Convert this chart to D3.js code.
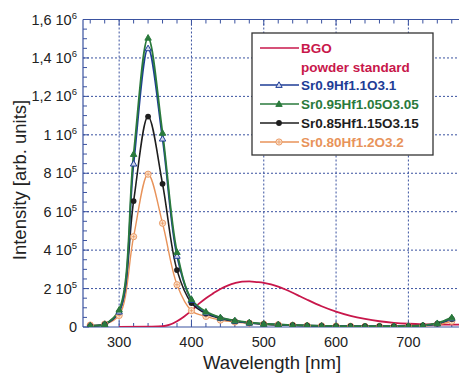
<!DOCTYPE html>
<html><head><meta charset="utf-8">
<script src="https://cdn.jsdelivr.net/npm/d3@7"></script>
<style>
body{margin:0;background:#fff;}
svg{display:block;font-family:"Liberation Sans",Arial,sans-serif;}
</style></head>
<body><svg id="c" width="459" height="376"></svg>
<script>
// ---- data ----
const wavelengths = [260,280,300,320,340,360,380,400,420,440,460,480,500,520,540,560,580,600,620,640,660,680,700,720,740,760];
const sr090 = [8,15,80,850,1450,980,370,140,75,48,32,22,16,12,9,7,6,5,4,4,4,4,5,8,18,45].map(v=>v*1e3);
const sr095 = [8,15,90,900,1505,1010,390,145,80,50,34,24,17,13,10,8,6,5,4,4,4,4,5,9,20,50].map(v=>v*1e3);
const sr085 = [6,14,80,655,1095,745,296,125,70,45,30,21,15,11,9,7,6,5,4,4,4,4,5,8,17,42].map(v=>v*1e3);
const sr080 = [10,15,60,470,795,540,220,85,55,36,26,20,15,12,9,7,6,5,4,3,3,3,3,5,12,30].map(v=>v*1e3);
const bgoWl = [300,340,360,370,380,390,400,410,420,430,440,450,460,470,480,490,500,510,520,530,540,550,560,580,600,620,640,660,680,700,720,740,760,770];
const bgoVal = [0,2,4,12,30,55,85,120,150,175,198,215,228,236,237,234,230,222,210,195,178,160,142,108,80,58,42,30,22,17,14,13,12,12].map(v=>v*1e3);
const xTicks = [300,400,500,600,700];
const yTicks = [0,2e5,4e5,6e5,8e5,1e6,1.2e6,1.4e6,1.6e6];
const yTickLabels = [["0",""],["2 10","5"],["4 10","5"],["6 10","5"],["8 10","5"],["1 10","6"],["1,2 10","6"],["1,4 10","6"],["1,6 10","6"]];
const seriesNames = ["Sr0.9Hf1.1O3.1","Sr0.95Hf1.05O3.05","Sr0.85Hf1.15O3.15","Sr0.80Hf1.2O3.2"];

const svg = d3.select("#c");
const L=83, R=459, T=19.5, B=327;
const x = d3.scaleLinear().domain([250,770]).range([L,R]);
const y = d3.scaleLinear().domain([0,1.6e6]).range([B,T]);
const axisCol = "#3a52a0";

// grid
const g = svg.append("g");
xTicks.forEach(t=>g.append("line").attr("x1",x(t)).attr("x2",x(t)).attr("y1",T).attr("y2",B)
  .attr("stroke",axisCol).attr("stroke-width",1).attr("stroke-dasharray","2,2"));
yTicks.slice(1,-1).forEach(t=>g.append("line").attr("x1",L).attr("x2",R).attr("y1",y(t)).attr("y2",y(t))
  .attr("stroke",axisCol).attr("stroke-width",1).attr("stroke-dasharray","2,2"));

// frame and minor ticks
svg.append("line").attr("x1",L).attr("x2",R).attr("y1",T).attr("y2",T).attr("stroke",axisCol).attr("stroke-width",1.2);
svg.append("line").attr("x1",L).attr("x2",R).attr("y1",B).attr("y2",B).attr("stroke",axisCol).attr("stroke-width",1.2);
svg.append("line").attr("x1",L).attr("x2",L).attr("y1",T).attr("y2",B).attr("stroke",axisCol).attr("stroke-width",1.2);
const xMinor = d3.range(260,771,20);
xMinor.forEach(t=>{
  const len = t%100===0?6:4;
  svg.append("line").attr("x1",x(t)).attr("x2",x(t)).attr("y1",T).attr("y2",T+len).attr("stroke",axisCol);
  svg.append("line").attr("x1",x(t)).attr("x2",x(t)).attr("y1",B).attr("y2",B-len).attr("stroke",axisCol);
});
d3.range(0,1.6e6+1,5e4).forEach(t=>{
  const len = t%2e5===0?6:4;
  svg.append("line").attr("x1",L).attr("x2",L+len).attr("y1",y(t)).attr("y2",y(t)).attr("stroke",axisCol);
});

// tick labels
xTicks.forEach(t=>svg.append("text").attr("x",x(t)).attr("y",B+20).attr("text-anchor","middle")
  .attr("font-size",14.5).attr("fill","#222").text(t));
yTicks.forEach((t,i)=>{
  const lab = yTickLabels[i];
  const tx = svg.append("text").attr("x",L-6).attr("y",y(t)+5).attr("text-anchor","end")
    .attr("font-size",14.5).attr("fill","#222");
  tx.append("tspan").text(lab[0]);
  if(lab[1]) tx.append("tspan").attr("dy",-6).attr("font-size",9.5).text(lab[1]);
});

// axis titles
svg.append("text").attr("x",272).attr("y",369).attr("text-anchor","middle").attr("font-size",18.5)
  .attr("fill","#222").text("Wavelength [nm]");
svg.append("text").attr("transform","translate(26,180) rotate(-90)").attr("text-anchor","middle")
  .attr("font-size",18.5).attr("fill","#222").text("Intensity [arb. units]");

// clip
svg.append("clipPath").attr("id","clip").append("rect").attr("x",L).attr("y",T-8).attr("width",R-L).attr("height",B-T+8);
const plot = svg.append("g").attr("clip-path","url(#clip)");

const line = d3.line().x(d=>x(d[0])).y(d=>y(d[1])).curve(d3.curveCatmullRom.alpha(0.5));
const smooth = d3.line().x(d=>x(d[0])).y(d=>y(d[1])).curve(d3.curveMonotoneX);

const colors = {bgo:"#c8174b", blue:"#1e3d96", green:"#2a7a3c", black:"#1e1e1e", orange:"#e8935a"};

// BGO
plot.append("path").datum(bgoWl.map((w,i)=>[w,bgoVal[i]])).attr("d",smooth)
  .attr("fill","none").attr("stroke",colors.bgo).attr("stroke-width",1.8);

const series = [
  {vals:sr080, col:colors.orange, marker:"ocross", w:1.4},
  {vals:sr085, col:colors.black, marker:"circle", w:1.6},
  {vals:sr090, col:colors.blue, marker:"otri", w:1.8},
  {vals:sr095, col:colors.green, marker:"tri", w:1.8}
];
function drawMarker(sel, type, col, cx, cy){
  if(type==="circle") sel.append("circle").attr("cx",cx).attr("cy",cy).attr("r",2.9).attr("fill",col);
  else if(type==="tri"||type==="otri"){
    const s=3.2;
    sel.append("path").attr("d",`M${cx},${cy-s}L${cx+s},${cy+s*0.75}L${cx-s},${cy+s*0.75}Z`)
      .attr("fill",type==="tri"?col:"#cfd6ee").attr("stroke",col).attr("stroke-width",1);
  } else {
    sel.append("circle").attr("cx",cx).attr("cy",cy).attr("r",3.1).attr("fill","#fbe3cf").attr("stroke",col).attr("stroke-width",0.9);
    sel.append("path").attr("d",`M${cx-2},${cy}H${cx+2}M${cx},${cy-2}V${cy+2}`).attr("stroke",col).attr("stroke-width",0.7);
  }
}
series.forEach(s=>{
  const pts = wavelengths.map((w,i)=>[w,s.vals[i]]);
  plot.append("path").datum(pts).attr("d",line).attr("fill","none").attr("stroke",s.col).attr("stroke-width",s.w);
});
series.forEach(s=>{
  wavelengths.forEach((w,i)=>drawMarker(plot,s.marker,s.col,x(w),y(s.vals[i])));
});

// legend
const lg = svg.append("g");
lg.append("rect").attr("x",252).attr("y",33).attr("width",181).attr("height",122)
  .attr("fill","#fff").attr("stroke","#333").attr("stroke-width",1.3);
const legItems = [
  {t:"BGO", col:colors.bgo, y:48, line:true, marker:null},
  {t:"powder standard", col:colors.bgo, y:67, line:false},
  {t:seriesNames[0], col:colors.blue, y:85, line:true, marker:"otri"},
  {t:seriesNames[1], col:colors.green, y:104, line:true, marker:"tri"},
  {t:seriesNames[2], col:colors.black, y:123, line:true, marker:"circle"},
  {t:seriesNames[3], col:colors.orange, y:142, line:true, marker:"ocross"}
];
legItems.forEach(it=>{
  if(it.line){
    lg.append("line").attr("x1",260).attr("x2",299).attr("y1",it.y).attr("y2",it.y)
      .attr("stroke",it.col).attr("stroke-width",1.6);
    if(it.marker) drawMarker(lg,it.marker,it.col,279,it.y);
  }
  lg.append("text").attr("x",301).attr("y",it.y+5).attr("font-size",13.5).attr("font-weight","bold")
    .attr("fill",it.col).text(it.t);
});
</script></body></html>
